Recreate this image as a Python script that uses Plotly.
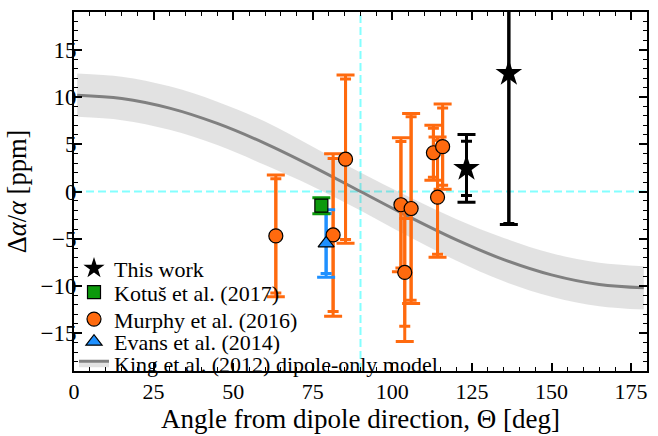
import plotly.graph_objects as go

# ---------------- data ----------------
this_theta = [123.3, 136.6]
this_y = [2.45, 12.5]
this_stat = [2.87, 15.9]
this_tot = [3.58, 16.0]

kotus_theta = [77.7]
kotus_y = [-1.5]
kotus_stat = [0.75]
kotus_tot = [0.85]

murphy_theta = [63.4, 81.4, 85.3, 102.7, 103.9, 105.9, 112.9, 114.2, 115.8]
murphy_y = [-4.7, -4.6, 3.42, -1.4, -8.57, -1.8, 4.1, -0.6, 4.75]
murphy_stat = [6.05, 8.1, 8.5, 6.7, 5.7, 9.7, 2.6, 6.03, 4.1]
murphy_tot = [6.45, 8.6, 8.9, 7.1, 7.3, 10.05, 2.9, 6.37, 4.5]

evans_theta = [79.2]
evans_y = [-5.5]
evans_stat = [3.17]
evans_tot = [3.58]

# King et al. (2012) dipole-only model, read at 15 deg steps
model_theta = [1, 15, 30, 45, 60, 75, 90, 105, 120, 135, 150, 165, 179]
model_y = [10.2, 9.85, 8.83, 7.21, 5.1, 2.64, 0.0, -2.64, -5.1, -7.21, -8.83, -9.85, -10.2]
model_halfwidth = [2.3, 2.3, 2.3, 2.3, 2.3, 2.1, 2.0, 2.1, 2.2, 2.3, 2.3, 2.3, 2.3]

x_ticks = [0, 25, 50, 75, 100, 125, 150, 175]
y_ticks = [-15, -10, -5, 0, 5, 10, 15]
x_range = [0, 180]
y_range = [-19, 19]
ref_theta = 90
ref_level = 0

legend_names = ["This work", "Kotuš et al. (2017)", "Murphy et al. (2016)",
                "Evans et al. (2014)", "King et al. (2012) dipole-only model"]
legend_rows_y = [0.286, 0.219, 0.144, 0.081, 0.021]

ORANGE = "#FF6A0E"
GREEN = "#0C990C"
BLUE = "#1E90FF"
BAND = "rgba(120,120,120,0.21)"
LINEGRAY = "#808080"
CYAN = "rgba(110,255,255,0.85)"
FONT = "Liberation Serif"

band_upper = [m + h for m, h in zip(model_y, model_halfwidth)]
band_lower = [m - h for m, h in zip(model_y, model_halfwidth)]

fig = go.Figure()

# band
fig.add_trace(go.Scatter(x=model_theta, y=band_lower, mode="lines", line=dict(width=0, shape="spline"),
                         showlegend=False, hoverinfo="skip"))
fig.add_trace(go.Scatter(x=model_theta, y=band_upper, mode="lines", line=dict(width=0, shape="spline"),
                         fill="tonexty", fillcolor=BAND, showlegend=False, hoverinfo="skip"))
# model line
fig.add_trace(go.Scatter(x=model_theta, y=model_y, mode="lines",
                         line=dict(color=LINEGRAY, width=3, shape="spline"),
                         showlegend=False))
# legend-only swatch for the model
fig.add_trace(go.Scatter(x=[None], y=[None], mode="lines", fill="toself", fillcolor=BAND,
                         line=dict(color=LINEGRAY, width=3),
                         name=legend_names[4], legend="legend5"))


def add_errors(theta, y, stat, tot, color, thick):
    fig.add_trace(go.Scatter(x=theta, y=y, mode="markers", marker=dict(color="rgba(0,0,0,0)", size=1),
                             error_y=dict(type="data", array=tot, color=color, thickness=thick, width=9),
                             showlegend=False, hoverinfo="skip"))
    fig.add_trace(go.Scatter(x=theta, y=y, mode="markers", marker=dict(color="rgba(0,0,0,0)", size=1),
                             error_y=dict(type="data", array=stat, color=color, thickness=thick, width=5.5),
                             showlegend=False, hoverinfo="skip"))


add_errors(murphy_theta, murphy_y, murphy_stat, murphy_tot, ORANGE, 3)
add_errors(evans_theta, evans_y, evans_stat, evans_tot, BLUE, 3)
add_errors(kotus_theta, kotus_y, kotus_stat, kotus_tot, GREEN, 3)
add_errors(this_theta, this_y, this_stat, this_tot, "black", 3)

fig.add_trace(go.Scatter(x=murphy_theta, y=murphy_y, mode="markers", name=legend_names[2],
                         marker=dict(symbol="circle", size=14, color=ORANGE, line=dict(color="black", width=1.2)),
                         legend="legend3"))
fig.add_trace(go.Scatter(x=evans_theta, y=evans_y, mode="markers", name=legend_names[3],
                         marker=dict(symbol="triangle-up", size=14, color=BLUE, line=dict(color="black", width=1.2)),
                         legend="legend4"))
fig.add_trace(go.Scatter(x=kotus_theta, y=kotus_y, mode="markers", name=legend_names[1],
                         marker=dict(symbol="square", size=13, color=GREEN, line=dict(color="black", width=1.2)),
                         legend="legend2"))
fig.add_trace(go.Scatter(x=this_theta, y=this_y, mode="markers", name=legend_names[0],
                         marker=dict(symbol="star", size=20, color="black", line=dict(color="black", width=0)),
                         legend="legend"))

# cyan reference lines
fig.add_shape(type="line", xref="x", yref="paper", x0=ref_theta, x1=ref_theta, y0=0, y1=1,
              line=dict(color=CYAN, width=2, dash="8px,4px"), layer="below")
fig.add_shape(type="line", xref="paper", yref="y", x0=0, x1=1, y0=ref_level, y1=ref_level,
              line=dict(color=CYAN, width=2, dash="8px,4px"), layer="below")

axis_common = dict(showline=True, linecolor="black", linewidth=2, mirror="ticks", ticks="inside",
                   ticklen=8, tickwidth=1.5, tickcolor="black", showgrid=False, zeroline=False)

fig.update_xaxes(range=x_range, tickvals=x_ticks,
                 tickfont=dict(family=FONT, size=22, color="black"),
                 minor=dict(dtick=5, tick0=0, ticks="inside", ticklen=4, tickwidth=1.2, tickcolor="black"),
                 title=dict(text="Angle from dipole direction, Θ [deg]", font=dict(family=FONT, size=27, color="black"),
                            standoff=4),
                 **axis_common)
fig.update_yaxes(range=y_range, tickvals=y_ticks,
                 tickfont=dict(family=FONT, size=23, color="black"),
                 ticklabelstandoff=-9,
                 minor=dict(dtick=1, tick0=0, ticks="inside", ticklen=4, tickwidth=1.2, tickcolor="black"),
                 title=dict(text="Δ<i>α</i>/<i>α</i> [ppm]", font=dict(family=FONT, size=26.5, color="black"),
                            standoff=6),
                 **axis_common)

legends = {}
for i, yy in enumerate(legend_rows_y):
    key = "legend" if i == 0 else "legend%d" % (i + 1)
    legends[key] = dict(x=0.0, y=yy, xanchor="left", yanchor="middle", bgcolor="rgba(0,0,0,0)",
                        font=dict(family=FONT, size=22, color="black"), itemwidth=30,
                        borderwidth=0)

fig.update_layout(
    width=658, height=436,
    margin=dict(l=74, r=9, t=12, b=50),
    paper_bgcolor="white", plot_bgcolor="white",
    font=dict(family=FONT, size=20, color="black"),
    showlegend=True,
    **legends,
)

fig.write_html("out.html")
